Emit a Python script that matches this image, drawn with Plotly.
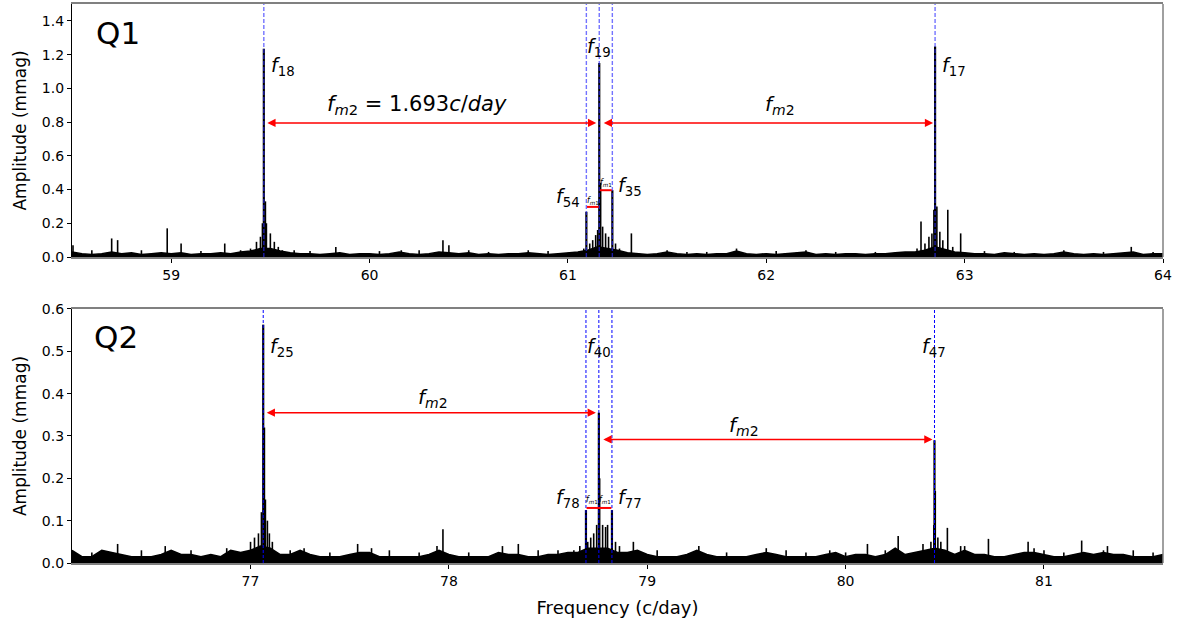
import plotly.graph_objects as go
from plotly.subplots import make_subplots

# ---------------- data: Q1 panel ----------------
q1_noise_start, q1_noise_step = 58.50, 0.05
q1_noise_amp = [0.03, 0.02, 0.015, 0.02, 0.03, 0.02, 0.025, 0.015, 0.02, 0.025,
                0.02, 0.025, 0.015, 0.02, 0.02, 0.025, 0.02, 0.03, 0.035, 0.05,
                0.05, 0.035, 0.025, 0.02, 0.02, 0.015, 0.02, 0.025, 0.015, 0.02,
                0.02, 0.015, 0.02, 0.03, 0.02, 0.015, 0.02, 0.03, 0.025, 0.02,
                0.025, 0.015, 0.02, 0.015, 0.02, 0.02, 0.025, 0.02, 0.015, 0.02,
                0.025, 0.03, 0.04, 0.06, 0.05, 0.04, 0.025, 0.02, 0.015, 0.02,
                0.03, 0.02, 0.015, 0.02, 0.015, 0.02, 0.02, 0.035, 0.02, 0.015,
                0.02, 0.015, 0.02, 0.025, 0.03, 0.015, 0.02, 0.015, 0.02, 0.02,
                0.015, 0.02, 0.02, 0.025, 0.03, 0.03, 0.04, 0.06, 0.045, 0.03,
                0.025, 0.02, 0.02, 0.015, 0.025, 0.02, 0.015, 0.02, 0.015, 0.02,
                0.03, 0.02, 0.015, 0.02, 0.015, 0.02, 0.025, 0.03, 0.015, 0.02, 0.02]
q1_spike_freq = [58.505, 58.60, 58.70, 58.73, 58.85, 58.98, 59.05, 59.15, 59.27, 59.35,
                 59.40, 59.43, 59.45, 59.46, 59.475, 59.48, 59.50, 59.52, 59.54, 59.56,
                 59.62, 59.70, 59.83, 60.05, 60.16, 60.25, 60.37, 60.40, 60.50, 60.60,
                 60.80, 60.90, 61.08, 61.11, 61.125, 61.14, 61.15, 61.165, 61.175, 61.19,
                 61.205, 61.24, 61.26, 61.32, 61.50, 61.60, 61.70, 61.85, 62.05, 62.20,
                 62.35, 62.55, 62.76, 62.78, 62.80, 62.82, 62.835, 62.845, 62.86, 62.875,
                 62.89, 62.915, 62.94, 62.98, 63.10, 63.25, 63.50, 63.70, 63.84, 63.95]
q1_spike_amp = [0.07, 0.04, 0.11, 0.10, 0.04, 0.17, 0.08, 0.035, 0.08, 0.04,
                0.05, 0.09, 0.12, 0.20, 0.33, 0.20, 0.14, 0.09, 0.06, 0.04,
                0.04, 0.035, 0.06, 0.035, 0.04, 0.04, 0.10, 0.07, 0.04, 0.03,
                0.04, 0.035, 0.05, 0.08, 0.10, 0.13, 0.16, 0.44, 0.18, 0.14,
                0.12, 0.08, 0.05, 0.14, 0.04, 0.03, 0.03, 0.05, 0.035, 0.04,
                0.03, 0.03, 0.05, 0.21, 0.08, 0.12, 0.14, 0.28, 0.30, 0.15,
                0.10, 0.28, 0.06, 0.14, 0.035, 0.03, 0.04, 0.03, 0.06, 0.03]
q1_names = ["18", "54", "19", "35", "17"]
q1_freq = [59.467, 61.093, 61.158, 61.224, 62.851]
q1_amp = [1.235, 0.268, 1.15, 0.396, 1.248]

# ---------------- data: Q2 panel ----------------
q2_noise_start, q2_noise_step = 76.10, 0.05
q2_noise_amp = [0.03, 0.015, 0.015, 0.03, 0.025, 0.02, 0.015, 0.015, 0.015, 0.02,
                0.03, 0.02, 0.02, 0.015, 0.02, 0.015, 0.03, 0.025, 0.03, 0.04,
                0.035, 0.02, 0.02, 0.03, 0.02, 0.015, 0.015, 0.015, 0.02, 0.025,
                0.025, 0.015, 0.015, 0.015, 0.015, 0.015, 0.02, 0.03, 0.02, 0.015,
                0.015, 0.015, 0.015, 0.025, 0.02, 0.02, 0.015, 0.015, 0.02, 0.02,
                0.025, 0.025, 0.035, 0.035, 0.035, 0.025, 0.025, 0.03, 0.02, 0.015,
                0.015, 0.015, 0.02, 0.03, 0.02, 0.015, 0.015, 0.015, 0.015, 0.02,
                0.025, 0.02, 0.015, 0.015, 0.015, 0.015, 0.02, 0.025, 0.015, 0.02,
                0.02, 0.015, 0.02, 0.035, 0.02, 0.025, 0.03, 0.035, 0.03, 0.02,
                0.03, 0.02, 0.02, 0.015, 0.015, 0.02, 0.025, 0.025, 0.02, 0.015,
                0.015, 0.02, 0.025, 0.02, 0.025, 0.02, 0.02, 0.015, 0.015, 0.015, 0.02]
q2_spike_freq = [76.20, 76.33, 76.45, 76.57, 76.70, 76.88, 77.00, 77.02, 77.04, 77.055,
                 77.07, 77.075, 77.085, 77.095, 77.11, 77.20, 77.27, 77.40, 77.54, 77.61,
                 77.70, 77.85, 77.94, 77.97, 78.10, 78.27, 78.35, 78.45, 78.55, 78.63,
                 78.66, 78.70, 78.715, 78.73, 78.745, 78.76, 78.775, 78.79, 78.80, 78.84,
                 78.86, 78.93, 79.05, 79.26, 79.40, 79.60, 79.70, 79.80, 79.92, 80.00,
                 80.11, 80.20, 80.265, 80.39, 80.43, 80.445, 80.452, 80.465, 80.48, 80.513,
                 80.58, 80.60, 80.72, 80.92, 80.95, 81.00, 81.10, 81.19, 81.30, 81.32,
                 81.45, 81.55]
q2_spike_amp = [0.025, 0.045, 0.03, 0.04, 0.03, 0.035, 0.05, 0.06, 0.07, 0.12,
                0.32, 0.15, 0.10, 0.07, 0.05, 0.03, 0.035, 0.025, 0.045, 0.035,
                0.03, 0.025, 0.04, 0.08, 0.025, 0.04, 0.045, 0.03, 0.03, 0.03,
                0.04, 0.05, 0.06, 0.07, 0.09, 0.20, 0.09, 0.085, 0.09, 0.05,
                0.04, 0.05, 0.03, 0.04, 0.025, 0.035, 0.03, 0.025, 0.03, 0.025,
                0.045, 0.03, 0.064, 0.045, 0.05, 0.09, 0.17, 0.06, 0.05, 0.083,
                0.04, 0.04, 0.057, 0.05, 0.035, 0.03, 0.025, 0.053, 0.03, 0.04,
                0.03, 0.025]
q2_names = ["25", "78", "40", "77", "47"]
q2_freq = [77.064, 78.691, 78.756, 78.822, 80.448]
q2_amp = [0.563, 0.125, 0.355, 0.125, 0.29]

fm2_text = "<i>f</i><sub><i>m</i>2</sub>"
fm1_text = "<i>f</i><sub><i>m</i>1</sub>"

fig = make_subplots(rows=2, cols=1)


def add_spectrum(row, start, step, noise, sf, sa, pf, pa):
    nx = [start + i * step for i in range(len(noise))]
    fig.add_trace(go.Scatter(x=nx, y=noise, mode="lines", line=dict(color="black", width=1.5),
                             fill="tozeroy", fillcolor="black", hoverinfo="skip"), row=row, col=1)
    xs, ys = [], []
    for f, a in zip(sf, sa):
        xs += [f, f, None]
        ys += [0, a, None]
    fig.add_trace(go.Scatter(x=xs, y=ys, mode="lines", line=dict(color="black", width=1.6),
                             hoverinfo="skip"), row=row, col=1)
    xs, ys = [], []
    for f, a in zip(pf, pa):
        xs += [f, f, None]
        ys += [0, a, None]
    fig.add_trace(go.Scatter(x=xs, y=ys, mode="lines", line=dict(color="black", width=2.2),
                             hoverinfo="skip"), row=row, col=1)


add_spectrum(1, q1_noise_start, q1_noise_step, q1_noise_amp, q1_spike_freq, q1_spike_amp, q1_freq, q1_amp)
add_spectrum(2, q2_noise_start, q2_noise_step, q2_noise_amp, q2_spike_freq, q2_spike_amp, q2_freq, q2_amp)

# vertical dashed lines
for f in q1_freq:
    fig.add_shape(type="line", x0=f, x1=f, y0=0, y1=1, xref="x", yref="y domain",
                  line=dict(color="rgba(40,40,255,0.65)", width=1.4, dash="4px,2px"))
for f in q2_freq:
    fig.add_shape(type="line", x0=f, x1=f, y0=0, y1=1, xref="x2", yref="y2 domain",
                  line=dict(color="blue", width=1, dash="3px,2px"))

# right spines in gray
fig.add_shape(type="line", x0=1, x1=1, y0=0, y1=1, xref="x domain", yref="y domain",
              line=dict(color="gray", width=1.5))
fig.add_shape(type="line", x0=1, x1=1, y0=0, y1=1, xref="x2 domain", yref="y2 domain",
              line=dict(color="gray", width=1.5))

ann = []


def arrow(xr, yr, x0, x1, y):
    ann.append(dict(x=x1, y=y, ax=x0, ay=y, xref=xr, yref=yr, axref=xr, ayref=yr, text="",
                    showarrow=True, arrowhead=2, arrowside="end+start", arrowsize=1.1,
                    arrowwidth=1.5, arrowcolor="red", standoff=0, startstandoff=0))


def text(xr, yr, x, y, t, size, xanchor="center"):
    ann.append(dict(x=x, y=y, xref=xr, yref=yr, text=t, showarrow=False,
                    font=dict(size=size, color="black"), xanchor=xanchor, yanchor="middle"))


def seg(xr, yr, x0, x1, y):
    fig.add_shape(type="line", x0=x0, x1=x1, y0=y, y1=y, xref=xr, yref=yr,
                  line=dict(color="red", width=2))


# ---- Q1 annotations ----
arrow("x", "y", q1_freq[0] + 0.01, q1_freq[2] - 0.015, 0.795)
arrow("x", "y", q1_freq[2] + 0.015, q1_freq[4] - 0.01, 0.795)
text("x", "y", 60.24, 0.9, fm2_text + " = 1.693<i>c</i>/<i>day</i>", 21)
text("x", "y", 62.07, 0.9, fm2_text, 20)
text("x", "y", 58.61, 1.33, "Q1", 31, "left")
text("x", "y", q1_freq[0] + 0.025, 1.13, "<i>f</i><sub>18</sub>", 19, "left")
text("x", "y", q1_freq[2], 1.24, "<i>f</i><sub>19</sub>", 19)
text("x", "y", q1_freq[4] + 0.025, 1.13, "<i>f</i><sub>17</sub>", 19, "left")
text("x", "y", q1_freq[1] - 0.02, 0.35, "<i>f</i><sub>54</sub>", 19, "right")
text("x", "y", q1_freq[3] + 0.02, 0.42, "<i>f</i><sub>35</sub>", 19, "left")
seg("x", "y", q1_freq[1] + 0.003, q1_freq[2] - 0.003, 0.297)
seg("x", "y", q1_freq[2] + 0.003, q1_freq[3] - 0.003, 0.396)
text("x", "y", (q1_freq[1] + q1_freq[2]) / 2, 0.335, fm1_text, 8)
text("x", "y", (q1_freq[2] + q1_freq[3]) / 2, 0.44, fm1_text, 8)

# ---- Q2 annotations ----
arrow("x2", "y2", q2_freq[0] + 0.01, q2_freq[2] - 0.015, 0.355)
arrow("x2", "y2", q2_freq[2] + 0.015, q2_freq[4] - 0.01, 0.292)
text("x2", "y2", 77.92, 0.39, fm2_text, 20)
text("x2", "y2", 79.49, 0.324, fm2_text, 20)
text("x2", "y2", 76.2, 0.535, "Q2", 31, "left")
text("x2", "y2", q2_freq[0] + 0.025, 0.51, "<i>f</i><sub>25</sub>", 19, "left")
text("x2", "y2", q2_freq[2], 0.51, "<i>f</i><sub>40</sub>", 19)
text("x2", "y2", q2_freq[4], 0.51, "<i>f</i><sub>47</sub>", 19)
text("x2", "y2", q2_freq[1] - 0.02, 0.153, "<i>f</i><sub>78</sub>", 19, "right")
text("x2", "y2", q2_freq[3] + 0.02, 0.153, "<i>f</i><sub>77</sub>", 19, "left")
seg("x2", "y2", q2_freq[1] + 0.003, q2_freq[3] - 0.003, 0.13)
text("x2", "y2", (q2_freq[1] + q2_freq[2]) / 2, 0.148, fm1_text, 8)
text("x2", "y2", (q2_freq[2] + q2_freq[3]) / 2, 0.148, fm1_text, 8)

axis_common = dict(showgrid=False, zeroline=False, ticks="outside", ticklen=4, tickwidth=1,
                   tickcolor="black", tickfont=dict(size=14, color="black"), automargin=False)

fig.update_layout(
    width=1181, height=629,
    margin=dict(l=72, r=18, t=4, b=66, autoexpand=False),
    paper_bgcolor="white", plot_bgcolor="white",
    showlegend=False,
    font=dict(family="DejaVu Sans", color="black"),
    annotations=ann,
    xaxis=dict(domain=[0, 1], range=[58.5, 64], dtick=1, tick0=59,
               showline=True, linecolor="gray", linewidth=1.5, mirror=True, **axis_common),
    yaxis=dict(domain=[0.5474, 1], range=[0, 1.5], dtick=0.2, tickformat=".1f",
               showline=True, linecolor="black", linewidth=1.2,
               title=dict(text="Amplitude (mmag)", font=dict(size=17), standoff=10), **axis_common),
    xaxis2=dict(domain=[0, 1], range=[76.1, 81.6], dtick=1, tick0=77,
                showline=True, linecolor="gray", linewidth=1.5, mirror=True,
                title=dict(text="Frequency (c/day)", font=dict(size=18), standoff=14), **axis_common),
    yaxis2=dict(domain=[0, 0.4544], range=[0, 0.6], dtick=0.1, tickformat=".1f",
                showline=True, linecolor="black", linewidth=1.2,
                title=dict(text="Amplitude (mmag)", font=dict(size=17), standoff=10), **axis_common),
)

fig.write_html("out.html")
